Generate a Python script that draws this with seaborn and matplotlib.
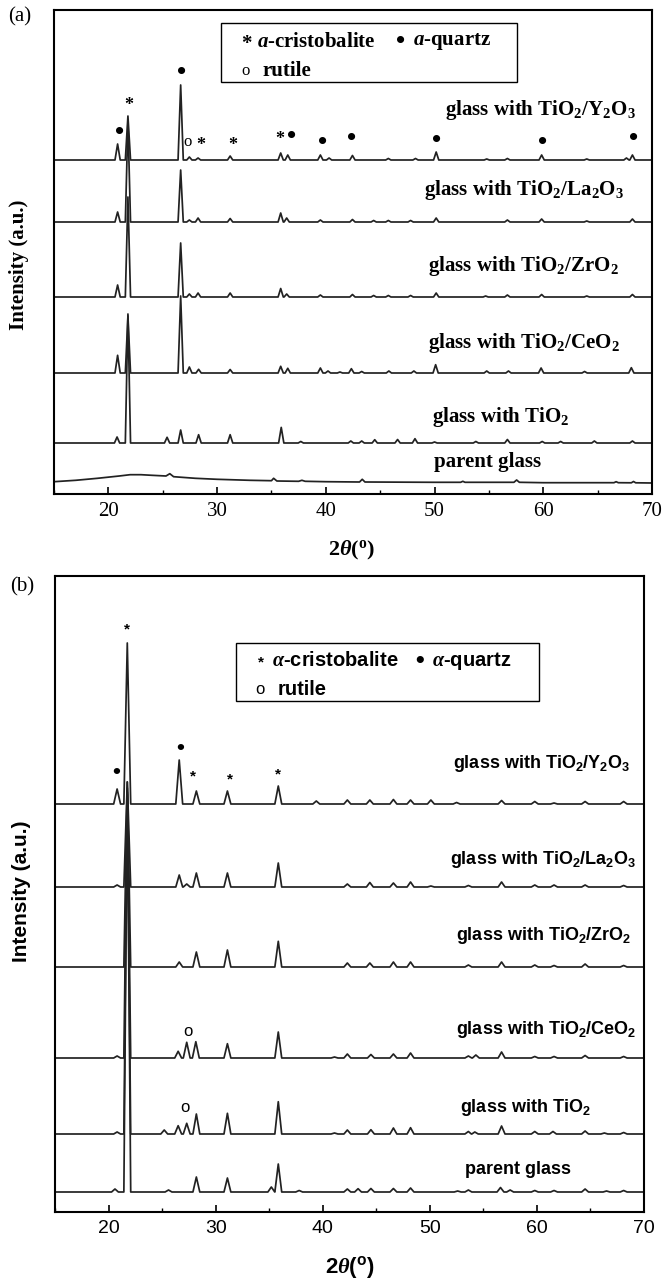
import matplotlib
matplotlib.use("Agg")
import matplotlib.pyplot as plt
from matplotlib.patches import Rectangle
from matplotlib.ticker import MultipleLocator
import pandas as pd
import seaborn as sns

# ---- panel (a): XRD peaks (2theta in deg, offset intensity in a.u.)
A_BASE = {"Y2O3": 334, "La2O3": 272, "ZrO2": 197, "CeO2": 121, "TiO2": 51}

A_Y2O3_POS = [20.85, 21.8, 26.65, 27.45, 28.25, 31.2, 35.85, 36.5, 39.5, 40.3, 42.45,
              45.75, 48.25, 50.15, 54.8, 56.7, 59.85, 64.0, 67.65, 68.2]
A_Y2O3_HT = [16, 44, 75, 3, 2, 4, 7, 5, 5, 2, 4.5, 1.5, 1.5, 8, 1, 1.5, 5, 1, 2, 5]

A_LA2O3_POS = [20.85, 21.8, 26.65, 27.45, 28.25, 31.2, 35.85, 36.4, 39.5, 42.45, 44.4,
               45.75, 47.8, 50.15, 56.7, 59.85, 64.0, 68.2]
A_LA2O3_HT = [10, 100, 52, 2, 4, 3.5, 9, 4, 2, 2.5, 1.5, 1.5, 1.5, 4, 2, 3, 1, 3]

A_ZRO2_POS = [20.85, 21.8, 26.65, 27.45, 28.25, 31.2, 35.85, 36.4, 39.5, 42.45, 44.4,
              45.75, 47.8, 50.15, 54.7, 56.7, 59.85, 64.0, 68.2]
A_ZRO2_HT = [12, 100, 54, 3, 4, 4, 8.5, 3, 2, 2.5, 1.5, 1.5, 1.5, 4, 1, 2, 2.5, 1, 2.5]

A_CEO2_POS = [20.85, 21.8, 26.65, 27.45, 28.3, 31.2, 35.85, 36.5, 39.5, 40.2, 41.3, 42.35,
              43.3, 45.8, 48.1, 50.1, 54.8, 56.8, 59.8, 63.8, 68.1]
A_CEO2_HT = [17.7, 57, 77, 6, 3.7, 3.5, 6.7, 4.7, 5, 2, 1, 4.3, 1.5, 2, 2, 8.3, 2, 2, 5,
             1.5, 5.3]

A_TIO2_POS = [20.8, 21.8, 25.4, 26.65, 28.3, 31.2, 35.9, 37.7, 42.3, 43.3, 44.5, 46.6,
              48.2, 50.0, 53.8, 56.7, 59.9, 61.6, 64.7, 68.2]
A_TIO2_HT = [6, 129, 5.7, 13, 8.3, 8.3, 15.6, 1.5, 2, 2, 3.3, 3.5, 4.3, 1, 1.5, 3.5, 1.5,
             1.5, 2, 2]

# parent glass in (a): amorphous hump, traced point by point
A_PARENT_X = [15, 17, 19, 21, 22, 23, 24, 25.3, 25.65, 26.0, 28, 30, 33, 35.0, 35.2, 35.5,
              37.5, 37.8, 38.1, 40, 43.1, 43.35, 43.6, 50, 52.4, 52.6, 52.8, 57.3, 57.55,
              57.8, 60, 66.5, 66.7, 66.9, 68.1, 68.3, 68.5, 70]
A_PARENT_Y = [12.3, 13.7, 15.7, 18, 19.3, 19.3, 18.7, 18, 20.3, 17.3, 15.7, 14.7, 13.7,
              13.3, 15.7, 13, 12.7, 13.7, 12.7, 12.3, 12, 14.7, 12, 11.7, 11.7, 12.7, 11.7,
              11.7, 14, 11.7, 11.3, 11.3, 12.3, 11.3, 11.2, 12.5, 11.2, 11]

# ---- panel (b)
B_BASE = {"Y2O3": 408, "La2O3": 325, "ZrO2": 245, "CeO2": 154, "TiO2": 78, "parent": 20}

B_Y2O3_POS = [20.8, 21.75, 26.6, 28.2, 31.1, 35.85, 39.4, 42.3, 44.4, 46.6, 48.2, 50.1,
              52.5, 56.7, 59.8, 61.6, 64.5, 68.1]
B_Y2O3_HT = [15, 161, 44, 13, 13, 18, 3, 4, 4, 4.5, 4, 4, 1.5, 3.5, 2.5, 1, 2.5, 2.5]

B_LA2O3_POS = [20.8, 21.75, 26.6, 27.3, 28.2, 31.1, 35.85, 42.3, 44.4, 46.6, 48.2, 50.1,
               53.6, 56.7, 59.8, 61.6, 64.5, 68.1]
B_LA2O3_HT = [2, 105, 12, 3, 14, 14, 24, 3, 4.5, 4, 5, 1, 1.5, 5, 2, 2, 2, 1.5]

B_ZRO2_POS = [21.75, 26.6, 28.2, 31.1, 35.85, 42.3, 44.4, 46.6, 48.2, 53.6, 56.7, 59.8,
              61.6, 64.5, 68.1]
B_ZRO2_HT = [185, 5, 15, 17, 25.7, 4, 4, 5, 5, 2, 5, 2, 1.5, 3, 1.5]

B_CEO2_POS = [20.8, 21.75, 26.5, 27.3, 28.15, 31.1, 35.85, 41.1, 42.3, 44.5, 46.6, 48.2,
              53.6, 54.3, 56.7, 59.8, 61.6, 64.5, 68.1]
B_CEO2_HT = [2, 270, 6.7, 15.7, 16.3, 14.3, 26, 1, 4, 3.5, 4, 5, 2, 3, 6, 1.5, 1.5, 2.5,
             1.5]

B_TIO2_POS = [20.8, 21.75, 25.2, 26.5, 27.3, 28.2, 31.1, 35.85, 41.1, 42.3, 44.5, 46.6,
              48.2, 53.6, 54.2, 56.7, 59.8, 61.5, 64.5, 66.3, 68.1]
B_TIO2_HT = [2, 340, 4, 8.3, 10.7, 20, 20.7, 32.3, 1, 4, 4.3, 6, 6.3, 2.5, 2, 8, 2.5,
             2.5, 3, 1, 1.5]

B_PARENT_POS = [20.6, 21.75, 25.6, 28.2, 31.1, 35.2, 35.85, 37.8, 42.3, 43.3, 44.5, 46.6,
                48.2, 52.6, 53.6, 56.6, 57.5, 59.8, 61.6, 64.5, 66.5, 68.1]
B_PARENT_HT = [3, 400, 2, 15, 14, 5, 28, 1.5, 3, 3.3, 3.5, 3.5, 4, 1, 2, 4.5, 2, 1.5,
               1.5, 3, 1, 1.5]

SAMPLE_LABELS = {
    "Y2O3": "glass with TiO$_2$/Y$_2$O$_3$",
    "La2O3": "glass with TiO$_2$/La$_2$O$_3$",
    "ZrO2": "glass with TiO$_2$/ZrO$_2$",
    "CeO2": "glass with TiO$_2$/CeO$_2$",
    "TiO2": "glass with TiO$_2$",
    "parent": "parent glass",
}

# phase symbols placed over the peaks: (symbol, 2theta, height)
A_MARKS = [("•", 26.7, 422), ("*", 21.9, 389), ("•", 21.0, 361), ("o", 27.3, 352),
           ("*", 28.5, 349), ("*", 31.4, 349), ("*", 35.8, 355), ("•", 36.85, 357),
           ("•", 39.7, 351), ("•", 42.4, 356), ("•", 50.2, 354), ("•", 59.9, 352),
           ("•", 68.3, 355)]
B_MARKS = [("*", 21.7, 583), ("•", 26.7, 464), ("•", 20.76, 440), ("*", 27.9, 436),
           ("*", 31.35, 433), ("*", 35.8, 438), ("o", 27.4, 181), ("o", 27.1, 105)]

LINE_COLOR = "#222222"


def peak_trace(sample, base, pos, ht, hw):
    rows = [(sample, 15.0, base), (sample, 70.0, base)]
    for p, h in zip(pos, ht):
        rows += [(sample, p - hw, base), (sample, p, base + h), (sample, p + hw, base)]
    return rows


def build_frame(base, peaks, hw, extra=None):
    rows = []
    for sample, (pos, ht) in peaks.items():
        rows += peak_trace(sample, base[sample], pos, ht, hw)
    df = pd.DataFrame(rows, columns=["sample", "two_theta", "intensity"])
    if extra is not None:
        df = pd.concat([df, extra], ignore_index=True)
    return df


plt.rcParams.update({
    "mathtext.fontset": "custom",
    "mathtext.rm": "Liberation Serif:bold",
    "mathtext.it": "Liberation Serif:italic:bold",
    "mathtext.bf": "Liberation Serif:bold",
    "mathtext.default": "regular",
})

fig = plt.figure(figsize=(6.62, 12.8), dpi=100)
W, H = 662, 1280
ax_a = fig.add_axes([54 / W, 1 - 494 / H, (652 - 54) / W, (494 - 10) / H])
ax_b = fig.add_axes([55 / W, 1 - 1212 / H, (644 - 55) / W, (1212 - 576) / H])

df_a = build_frame(
    A_BASE,
    {"Y2O3": (A_Y2O3_POS, A_Y2O3_HT), "La2O3": (A_LA2O3_POS, A_LA2O3_HT),
     "ZrO2": (A_ZRO2_POS, A_ZRO2_HT), "CeO2": (A_CEO2_POS, A_CEO2_HT),
     "TiO2": (A_TIO2_POS, A_TIO2_HT)},
    hw=0.24,
    extra=pd.DataFrame({"sample": "parent", "two_theta": A_PARENT_X,
                        "intensity": A_PARENT_Y}),
)
df_b = build_frame(
    B_BASE,
    {"Y2O3": (B_Y2O3_POS, B_Y2O3_HT), "La2O3": (B_LA2O3_POS, B_LA2O3_HT),
     "ZrO2": (B_ZRO2_POS, B_ZRO2_HT), "CeO2": (B_CEO2_POS, B_CEO2_HT),
     "TiO2": (B_TIO2_POS, B_TIO2_HT), "parent": (B_PARENT_POS, B_PARENT_HT)},
    hw=0.32,
)

for ax, df in [(ax_a, df_a), (ax_b, df_b)]:
    sns.lineplot(data=df, x="two_theta", y="intensity", units="sample", estimator=None,
                 sort=True, color=LINE_COLOR, linewidth=1.25, ax=ax, legend=False)

A_LABEL_POS = {"Y2O3": (59.7, 384), "La2O3": (58.2, 304), "ZrO2": (58.2, 228),
               "CeO2": (58.2, 151), "TiO2": (56.1, 77), "parent": (54.9, 32)}
B_LABEL_POS = {"Y2O3": (60.4, 449), "La2O3": (60.6, 352), "ZrO2": (60.6, 277),
               "CeO2": (60.9, 182), "TiO2": (58.9, 105), "parent": (58.2, 42)}

SERIF = "Liberation Serif"
SANS = "Liberation Sans"

# ---- axes styling
for ax, ylim, fam, tsize in [(ax_a, 484, SERIF, 15), (ax_b, 636, SANS, 14)]:
    ax.set_xlim(15, 70)
    ax.set_ylim(0, ylim)
    ax.set_xlabel("")
    ax.set_ylabel("")
    ax.set_yticks([])
    ax.xaxis.set_major_locator(MultipleLocator(10))
    ax.xaxis.set_minor_locator(MultipleLocator(5))
    ax.tick_params(axis="x", which="major", direction="in", length=5, width=1.2,
                   labelsize=tsize, pad=6, labelfontfamily=fam, top=False)
    ax.tick_params(axis="x", which="minor", direction="in", length=3, width=1.0, top=False)
    for sp in ax.spines.values():
        sp.set_linewidth(1.5)
        sp.set_color("black")

for key, (x, y) in A_LABEL_POS.items():
    ax_a.text(x, y, SAMPLE_LABELS[key], ha="center", va="center", fontsize=15,
              fontweight="bold", fontfamily=SERIF)
for key, (x, y) in B_LABEL_POS.items():
    ax_b.text(x, y, SAMPLE_LABELS[key], ha="center", va="center", fontsize=13,
              fontweight="bold", fontfamily=SANS)

A_SYM_SIZE = {"•": 19, "*": 13, "o": 12}
B_SYM_SIZE = {"•": 16, "*": 11, "o": 12}
for sym, x, y in A_MARKS:
    ax_a.text(x, y, sym, ha="center", va="center", fontsize=A_SYM_SIZE[sym],
              fontweight="bold" if sym != "o" else "normal", fontfamily=SERIF)
for sym, x, y in B_MARKS:
    ax_b.text(x, y, sym, ha="center", va="center", fontsize=B_SYM_SIZE[sym],
              fontweight="bold" if sym != "o" else "normal", fontfamily=SANS)

# ---- phase key boxes
ax_a.add_patch(Rectangle((0.2786, 0.8512), 0.4953, 0.1219, transform=ax_a.transAxes,
                         fill=False, lw=1.0, ec="black"))
kw_a = dict(transform=ax_a.transAxes, va="center", fontsize=15, fontweight="bold",
            fontfamily=SERIF)
ax_a.text(0.321, 0.9300, "*", ha="center", **kw_a)
ax_a.text(0.3403, 0.9339, r"$\mathit{a}$-cristobalite", ha="left", **kw_a)
ax_a.text(0.580, 0.9339, "•", ha="center", transform=ax_a.transAxes, va="center",
          fontsize=19, fontweight="bold", fontfamily=SERIF)
ax_a.text(0.601, 0.9339, r"$\mathit{a}$-quartz", ha="left", **kw_a)
ax_a.text(0.321, 0.8740, "o", ha="center", transform=ax_a.transAxes, va="center",
          fontsize=12, fontfamily=SERIF)
ax_a.text(0.349, 0.8740, "rutile", ha="left", **kw_a)

ax_b.add_patch(Rectangle((0.3065, 0.8039), 0.5152, 0.0908, transform=ax_b.transAxes,
                         fill=False, lw=1.0, ec="black"))
kw_b = dict(transform=ax_b.transAxes, va="center", fontsize=14.5, fontweight="bold",
            fontfamily=SANS)
ax_b.text(0.3497, 0.8640, "*", ha="center", transform=ax_b.transAxes, va="center",
          fontsize=11, fontweight="bold", fontfamily=SANS)
ax_b.text(0.3676, 0.8668, r"$\mathit{\alpha}$-cristobalite", ha="left", **kw_b)
ax_b.text(0.6197, 0.8668, "•", ha="center", transform=ax_b.transAxes, va="center",
          fontsize=18, fontweight="bold", fontfamily=SANS)
ax_b.text(0.640, 0.8668, r"$\mathit{\alpha}$-quartz", ha="left", **kw_b)
ax_b.text(0.348, 0.8223, "o", ha="center", transform=ax_b.transAxes, va="center",
          fontsize=12, fontfamily=SANS)
ax_b.text(0.3786, 0.8223, "rutile", ha="left", **kw_b)

# ---- axis titles and panel letters
fig.text(352 / W, 1 - 550 / H, r"2$\mathit{\theta}$($^o$)", ha="center", va="center",
         fontsize=16, fontweight="bold", fontfamily=SERIF)
fig.text(350 / W, 1 - 1268 / H, r"2$\mathit{\theta}$($^o$)", ha="center", va="center",
         fontsize=16, fontweight="bold", fontfamily=SANS)
fig.text(19 / W, 1 - 265 / H, "Intensity (a.u.)", rotation=90, ha="center", va="center",
         fontsize=15, fontweight="bold", fontfamily=SERIF)
fig.text(22 / W, 1 - 891 / H, "Intensity (a.u.)", rotation=90, ha="center", va="center",
         fontsize=15, fontweight="bold", fontfamily=SANS)
fig.text(20 / W, 1 - 17 / H, "(a)", ha="center", va="center", fontsize=15, fontfamily=SERIF)
fig.text(22 / W, 1 - 587 / H, "(b)", ha="center", va="center", fontsize=15, fontfamily=SERIF)

fig.savefig("out.png", dpi=100, facecolor="white")
